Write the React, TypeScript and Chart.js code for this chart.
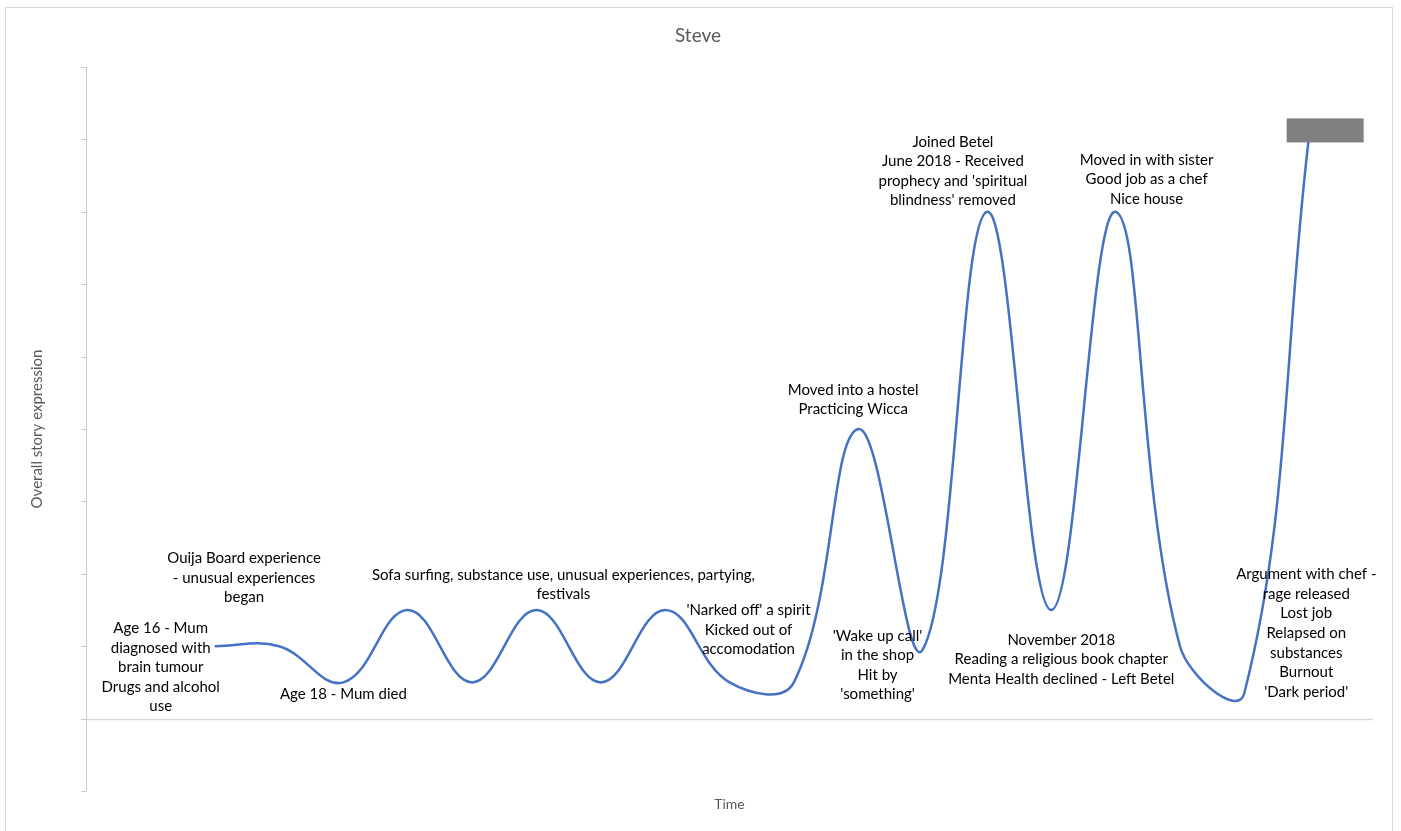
import React, { useEffect, useRef } from "react";
import { Chart, registerables } from "chart.js";

Chart.register(...registerables);

// Story timeline: position along the time axis and how the story felt at that moment
const timePoints = [2, 3, 4, 5, 6, 7, 8, 9, 10, 11, 12, 13, 14, 15, 16, 17, 18, 19];
const storyValues = [1.0, 1.0, 0.5, 1.5, 0.5, 1.5, 0.5, 1.5, 0.5, 0.5, 4.0, 0.95, 7.0, 1.5, 7.0, 1.0, 0.35, 8.0];

// Y axis tick marks (no labels are shown)
const yTickValues = [-1, 0, 1, 2, 3, 4, 5, 6, 7, 8, 9];

// Notes attached to points (index into the series -> text lines)
const noteIndex = [0, 1, 2, 5, 8, 10, 11, 12, 13, 14, 16];
const noteLines: string[][] = [
  ["Age 16 - Mum", "diagnosed with", "brain tumour", "Drugs and alcohol", "use"],
  ["Ouija Board experience", "- unusual experiences", "began"],
  ["Age 18 - Mum died"],
  ["Sofa surfing, substance use, unusual experiences, partying,", "festivals"],
  ["'Narked off' a spirit", "Kicked out of", "accomodation"],
  ["Moved into a hostel", "Practicing Wicca"],
  ["'Wake up call'", "in the shop", "Hit by", "'something'"],
  ["Joined Betel", "June 2018 - Received", "prophecy and 'spiritual", "blindness' removed"],
  ["November 2018", "Reading a religious book chapter", "Menta Health declined - Left Betel"],
  ["Moved in with sister", "Good job as a chef", "Nice house"],
  ["Argument with chef -", "rage released", "Lost job", "Relapsed on", "substances", "Burnout", "'Dark period'"],
];

// Where each note sits relative to its point: centre x offset, first line y offset (px)
const notePlacement = [
  { dx: -54, dy: -18 },
  { dx: -35, dy: -88 },
  { dx: 0, dy: 12 },
  { dx: 27, dy: -35 },
  { dx: 19, dy: -72 },
  { dx: -5, dy: -39 },
  { dx: -45, dy: -14 },
  { dx: -34, dy: -70 },
  { dx: 10, dy: 30 },
  { dx: 31, dy: -52 },
  { dx: 62, dy: -119 },
];

const chartTitle = "Steve";
const xAxisTitle = "Time";
const yAxisTitle = "Overall story expression";

const LABEL_FONT = "15px Lato, 'Open Sans', sans-serif";
const LINE_GAP = 19.6;

const decorations = {
  id: "storyDecorations",
  beforeDatasetsDraw(chart: any) {
    const { ctx, chartArea, scales } = chart;
    const xs = scales.x;
    const ys = scales.y;
    ctx.save();
    // outer frame
    ctx.strokeStyle = "#d9d9d9";
    ctx.lineWidth = 1;
    ctx.strokeRect(5.5, 7.5, 1387, 840);

    // y axis line and tick marks
    ctx.strokeStyle = "#c9c9c9";
    ctx.beginPath();
    ctx.moveTo(chartArea.left + 0.5, chartArea.top);
    ctx.lineTo(chartArea.left + 0.5, chartArea.bottom);
    for (const v of yTickValues) {
      const py = Math.round(ys.getPixelForValue(v)) + 0.5;
      ctx.moveTo(chartArea.left - 5, py);
      ctx.lineTo(chartArea.left + 0.5, py);
    }
    ctx.stroke();

    // horizontal axis at zero
    const y0 = Math.round(ys.getPixelForValue(0)) + 0.5;
    ctx.strokeStyle = "#d9d9d9";
    ctx.lineWidth = 1.5;
    ctx.beginPath();
    ctx.moveTo(xs.getPixelForValue(xs.min), y0);
    ctx.lineTo(xs.getPixelForValue(xs.max), y0);
    ctx.stroke();

    // titles
    ctx.fillStyle = "#595959";
    ctx.textAlign = "center";
    ctx.textBaseline = "middle";
    ctx.font = "19px Lato, 'Open Sans', sans-serif";
    ctx.fillText(chartTitle, 698, 36);
    ctx.font = "14px Lato, 'Open Sans', sans-serif";
    ctx.fillText(xAxisTitle, (chartArea.left + chartArea.right) / 2, 804);
    ctx.font = "15px Lato, 'Open Sans', sans-serif";
    ctx.save();
    ctx.translate(37, (chartArea.top + chartArea.bottom) / 2);
    ctx.rotate(-Math.PI / 2);
    ctx.fillText(yAxisTitle, 0, 0);
    ctx.restore();
    ctx.restore();
  },
  afterDatasetsDraw(chart: any) {
    const { ctx, scales } = chart;
    const xs = scales.x;
    const ys = scales.y;
    ctx.save();
    ctx.fillStyle = "#000000";
    ctx.font = LABEL_FONT;
    ctx.textAlign = "center";
    ctx.textBaseline = "middle";
    noteIndex.forEach((idx, n) => {
      const px = xs.getPixelForValue(timePoints[idx]);
      const py = ys.getPixelForValue(storyValues[idx]);
      const place = notePlacement[n];
      noteLines[n].forEach((line, k) => {
        ctx.fillText(line, px + place.dx, py + place.dy + k * LINE_GAP);
      });
    });
    // filled label box on the final point
    const last = timePoints.length - 1;
    const lx = xs.getPixelForValue(timePoints[last]);
    const ly = ys.getPixelForValue(storyValues[last]);
    ctx.fillStyle = "#808080";
    ctx.fillRect(lx - 22, ly - 21, 77, 24);
    ctx.restore();
  },
};

export default function App() {
  const canvasRef = useRef<HTMLCanvasElement | null>(null);

  useEffect(() => {
    const canvas = canvasRef.current;
    if (!canvas) return;
    const chart = new Chart(canvas, {
      type: "line",
      data: {
        datasets: [
          {
            data: timePoints.map((x, i) => ({ x, y: storyValues[i] })),
            borderColor: "#4472C4",
            borderWidth: 2.5,
            pointRadius: 0,
            tension: 0.4,
            fill: false,
          },
        ],
      },
      options: {
        responsive: false,
        animation: false,
        layout: { padding: { left: 86, right: 28, top: 67, bottom: 40 } },
        scales: {
          x: { type: "linear", min: 0, max: 20, display: false },
          y: { type: "linear", min: -1, max: 9, display: false },
        },
        plugins: {
          legend: { display: false },
          title: { display: false },
          tooltip: { enabled: false },
        },
      },
      plugins: [decorations],
    });
    return () => chart.destroy();
  }, []);

  return (
    <div style={{ position: "fixed", left: 0, top: 0, width: 1401, height: 831, background: "#ffffff" }}>
      <canvas ref={canvasRef} width={1401} height={831} style={{ display: "block" }} />
    </div>
  );
}
